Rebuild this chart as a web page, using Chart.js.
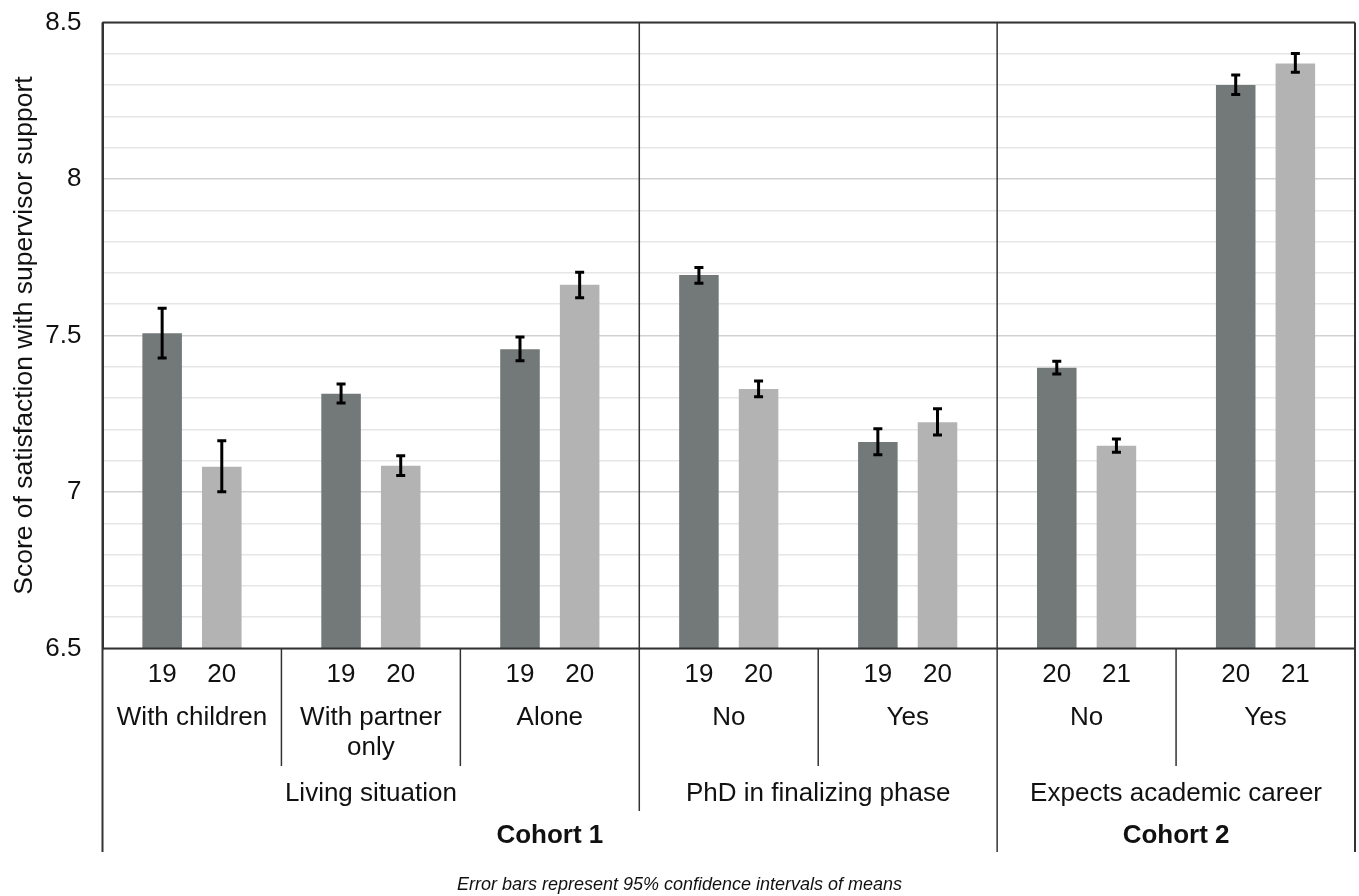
<!DOCTYPE html>
<html>
<head>
<meta charset="utf-8">
<script src="https://cdn.jsdelivr.net/npm/chart.js@4.4.1/dist/chart.umd.min.js"></script>
<style>
html,body{margin:0;padding:0;background:#fff;}
canvas{display:block;}
</style>
</head>
<body>
<canvas id="c" width="1359" height="896"></canvas>
<script>
// ---- data ----
const groupLabels = [['With children'], ['With partner', 'only'], ['Alone'], ['No'], ['Yes'], ['No'], ['Yes']];
const firstYearLabels = ['19', '19', '19', '19', '19', '20', '20'];
const secondYearLabels = ['20', '20', '20', '20', '20', '21', '21'];

const firstMeans = [7.507, 7.314, 7.456, 7.693, 7.160, 7.397, 8.300];
const firstLow   = [7.428, 7.284, 7.419, 7.667, 7.119, 7.377, 8.270];
const firstHigh  = [7.587, 7.345, 7.495, 7.717, 7.202, 7.418, 8.332];

const secondMeans = [7.081, 7.084, 7.662, 7.329, 7.223, 7.148, 8.369];
const secondLow   = [7.001, 7.053, 7.621, 7.304, 7.182, 7.127, 8.341];
const secondHigh  = [7.164, 7.116, 7.702, 7.355, 7.266, 7.169, 8.401];

const topicLabels = ['Living situation', 'PhD in finalizing phase', 'Expects academic career'];
const topicSpans = [[0, 2], [3, 4], [5, 6]];
const cohortLabels = ['Cohort 1', 'Cohort 2'];
const cohortSpans = [[0, 4], [5, 6]];

const yMin = 6.5, yMax = 8.5, yMinorStep = 0.1, yMajorStep = 0.5;
const yTitle = 'Score of satisfaction with supervisor support';
const footnote = 'Error bars represent 95% confidence intervals of means';

// ---- styles ----
const FONT = '"Liberation Sans", Arial, Helvetica, sans-serif';
const TEXT = '#111111';
const DARK = '#737978';
const LIGHT = '#b3b3b3';
const LINE = '#333333';

const isMajor = v => Math.abs(v / yMajorStep - Math.round(v / yMajorStep)) < 1e-6;

const errorBars = {
  id: 'errorBars',
  afterDatasetsDraw(chart) {
    const ctx = chart.ctx, ys = chart.scales.y;
    const lows = [firstLow, secondLow], highs = [firstHigh, secondHigh];
    ctx.save();
    ctx.strokeStyle = '#000';
    ctx.lineWidth = 3;
    ctx.lineCap = 'butt';
    chart.data.datasets.forEach((ds, di) => {
      const meta = chart.getDatasetMeta(di);
      meta.data.forEach((el, i) => {
        const x = el.x;
        const yl = ys.getPixelForValue(lows[di][i]);
        const yh = ys.getPixelForValue(highs[di][i]);
        ctx.beginPath();
        ctx.moveTo(x, yl); ctx.lineTo(x, yh);
        ctx.moveTo(x - 4.5, yl); ctx.lineTo(x + 4.5, yl);
        ctx.moveTo(x - 4.5, yh); ctx.lineTo(x + 4.5, yh);
        ctx.stroke();
      });
    });
    ctx.restore();
  }
};

const categoryAxis = {
  id: 'categoryAxis',
  afterDraw(chart) {
    const ctx = chart.ctx, xs = chart.scales.x, ca = chart.chartArea;
    const n = groupLabels.length;
    const bound = b => b <= 0 ? ca.left : b >= n ? ca.right :
      (xs.getPixelForValue(b - 1) + xs.getPixelForValue(b)) / 2;
    const levelEnds = [766, 811, 852];
    const cohortStarts = cohortSpans.map(s => s[0]);
    const topicStarts = topicSpans.map(s => s[0]);

    ctx.save();
    ctx.strokeStyle = LINE;
    ctx.lineWidth = 2;
    ctx.beginPath();
    ctx.moveTo(ca.left, ca.top); ctx.lineTo(ca.right, ca.top);
    ctx.moveTo(ca.left, ca.bottom); ctx.lineTo(ca.right, ca.bottom);
    ctx.stroke();
    for (let b = 0; b <= n; b++) {
      let level = 1;
      if (b === 0 || b === n || cohortStarts.includes(b)) level = 3;
      else if (topicStarts.includes(b)) level = 2;
      const x = bound(b);
      ctx.lineWidth = (b === 0 || b === n) ? 2 : 1.5;
      ctx.beginPath();
      ctx.moveTo(x, level >= 2 ? ca.top : ca.bottom);
      ctx.lineTo(x, levelEnds[level - 1]);
      ctx.stroke();
    }

    ctx.fillStyle = TEXT;
    ctx.textAlign = 'center';
    ctx.textBaseline = 'middle';
    ctx.font = '26px ' + FONT;
    const yearSets = [firstYearLabels, secondYearLabels];
    chart.data.datasets.forEach((ds, di) => {
      chart.getDatasetMeta(di).data.forEach((el, i) => {
        ctx.fillText(yearSets[di][i], el.x, 675);
      });
    });
    groupLabels.forEach((lines, i) => {
      const cx = xs.getPixelForValue(i);
      lines.forEach((t, k) => ctx.fillText(t, cx, 718 + k * 30));
    });
    topicLabels.forEach((t, k) => {
      const cx = (bound(topicSpans[k][0]) + bound(topicSpans[k][1] + 1)) / 2;
      ctx.fillText(t, cx, 794);
    });
    ctx.font = 'bold 26px ' + FONT;
    cohortLabels.forEach((t, k) => {
      const cx = (bound(cohortSpans[k][0]) + bound(cohortSpans[k][1] + 1)) / 2;
      ctx.fillText(t, cx, 836);
    });
    ctx.font = 'italic 18px ' + FONT;
    ctx.fillText(footnote, chart.width / 2, 885);
    ctx.restore();
  }
};

new Chart(document.getElementById('c'), {
  type: 'bar',
  data: {
    labels: groupLabels,
    datasets: [
      { label: 'First year', data: firstMeans, backgroundColor: DARK, borderWidth: 0 },
      { label: 'Second year', data: secondMeans, backgroundColor: LIGHT, borderWidth: 0 }
    ]
  },
  options: {
    responsive: false,
    animation: false,
    layout: { padding: { top: 22.5, right: 4, bottom: 247.5, left: 0 } },
    categoryPercentage: 0.6667,
    barPercentage: 0.663,
    plugins: { legend: { display: false }, tooltip: { enabled: false } },
    scales: {
      x: { display: false },
      y: {
        min: yMin, max: yMax,
        afterFit: s => { s.width = 102.5; s.paddingTop = 0; s.paddingBottom = 0; },
        border: { display: true, color: LINE, width: 2 },
        grid: {
          drawTicks: false,
          color: c => (c.tick && isMajor(c.tick.value)) ? '#d2d2d2' : '#e6e6e6',
          lineWidth: 1.5
        },
        ticks: {
          stepSize: yMinorStep,
          padding: 21,
          color: TEXT,
          font: { family: FONT, size: 26 },
          autoSkip: false,
          callback: v => isMajor(v) ? String(Math.round(v * 10) / 10) : ''
        },
        title: {
          display: true,
          text: yTitle,
          color: TEXT,
          font: { family: FONT, size: 26.5 },
          padding: { top: 9, bottom: 0 }
        }
      }
    }
  },
  plugins: [errorBars, categoryAxis]
});
</script>
</body>
</html>
